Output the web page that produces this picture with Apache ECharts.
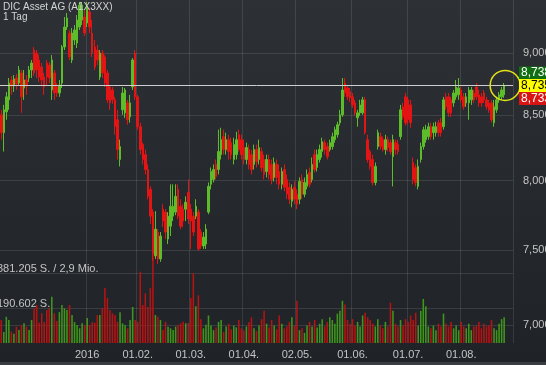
<!DOCTYPE html>
<html><head><meta charset="utf-8">
<script src="https://cdn.jsdelivr.net/npm/echarts@6/dist/echarts.min.js"></script>
<style>
html,body{margin:0;padding:0;background:#25282c;}
#c{width:546px;height:365px;background:linear-gradient(#2d3034,#1f2226);}
</style></head><body><div id="c"></div>
<script>
// ---- data ----
const titleText = 'DIC Asset AG (A1X3XX)';
const subTitleText = '1 Tag';
const firstDay = '2015-11-11';
const closedDays = ['2015-12-24','2015-12-25','2015-12-31','2016-01-01','2016-03-25','2016-03-28'];
const emptyTrailingDays = 3;
const xTickLabels = {'2016-01-04':'2016','2016-02-01':'01.02.','2016-03-01':'01.03.','2016-04-01':'01.04.','2016-05-02':'02.05.','2016-06-01':'01.06.','2016-07-01':'01.07.','2016-08-01':'01.08.'};
const priceTicks = [7000, 7500, 8000, 8500, 9000];
const volumeTicks = [190602, 381205];
const volumeTickLabels = {190602:'190.602 S.', 381205:'381.205 S. / 2,9 Mio.'};
const lastPrice = 8735, askPrice = 8738, bidPrice = 8733;

const openP = [
8501,8362,8524,8619,8779,8730,8795,8754,8836,8714,
8779,8795,8860,9025,9000,8942,8885,8803,8917,8901,
8698,8836,8722,8674,8754,9050,9219,9168,8942,9109,
9084,9219,9279,9305,9253,9348,9168,9050,9025,8803,
9000,8967,8836,8722,8698,8619,8462,8157,8540,8516,
8595,8485,8722,9000,8643,8408,8270,8194,8082,7935,
7770,7462,7628,7441,7791,7770,7579,7670,7741,7770,
7935,7812,7791,7791,7913,7791,7741,7741,7770,7628,
7531,7544,7770,7972,8008,8120,8082,8194,8331,8232,
8308,8285,8157,8194,8346,8308,8247,8157,8232,8194,
8120,8232,8157,8217,8157,8067,8157,8120,8023,8120,
8067,7972,8082,8008,7950,7848,7950,7899,7863,8008,
7899,7957,8060,8008,8194,8097,8157,8217,8285,8255,
8232,8255,8308,8346,8439,8501,8754,8714,8682,8643,
8595,8477,8516,8516,8619,8308,8217,8157,7986,8255,
8331,8308,8232,8308,8285,8179,8285,8270,8331,8564,
8643,8619,8579,8134,8097,7957,8157,8255,8308,8331,
8408,8362,8362,8439,8439,8408,8643,8643,8619,8595,
8643,8659,8698,8643,8595,8595,8619,8674,8722,8659,
8643,8674,8619,8595,8595,8439,8540,8619,8643,8659];
const closeP = [
8362,8540,8643,8754,8730,8787,8746,8860,8643,8779,
8730,8860,8917,8836,8860,8803,8779,8722,8803,8795,
8942,8674,8674,8738,9050,9219,9296,8967,9168,9194,
9279,9408,9408,9168,9391,9219,9000,8885,8942,9000,
8836,8754,8619,8595,8619,8408,8232,8255,8674,8698,
8462,8595,8942,8643,8408,8232,8157,8082,7884,7741,
7476,7649,7441,7600,7706,7628,7741,7812,7812,7884,
7741,7670,7706,7841,7720,7706,7628,7812,7510,7531,
7593,7649,7957,8067,8082,8030,8217,8308,8232,8308,
8217,8194,8270,8308,8232,8194,8157,8247,8120,8082,
8232,8142,8247,8097,8045,8157,8045,8008,8134,8023,
7972,8067,7950,7899,7863,7935,7863,7827,7993,7899,
7986,8045,7972,8120,8082,8194,8232,8293,8232,8179,
8285,8331,8385,8423,8501,8698,8674,8643,8635,8579,
8516,8516,8579,8619,8362,8157,8105,7986,8105,8362,
8255,8232,8308,8247,8217,8308,8232,8217,8540,8485,
8439,8462,8439,8008,7986,8105,8255,8385,8385,8408,
8331,8408,8408,8362,8362,8619,8564,8516,8516,8674,
8722,8714,8619,8564,8643,8698,8698,8619,8643,8595,
8595,8619,8564,8540,8462,8564,8619,8659,8698,8735];
const lowP = [
8308,8217,8462,8540,8659,8682,8698,8730,8516,8619,
8659,8763,8795,8811,8795,8763,8738,8659,8738,8754,
8619,8619,8643,8643,8714,9025,9194,8942,8917,9067,
9042,9194,9236,9143,9219,9168,8967,8860,8901,8779,
8795,8722,8595,8540,8587,8346,8157,8105,8501,8477,
8423,8439,8698,8619,8385,8194,8120,8045,7863,7684,
7428,7441,7407,7421,7663,7579,7544,7600,7706,7748,
7720,7649,7663,7706,7684,7510,7600,7720,7496,7510,
7510,7510,7755,7935,7986,8008,8045,8157,8194,8194,
8157,8157,8120,8157,8217,8157,8120,8120,8082,8045,
8082,8097,8120,8067,8008,8023,8008,7972,7993,7972,
7935,7935,7921,7863,7827,7805,7827,7791,7827,7863,
7877,7935,7950,7986,8060,8067,8134,8172,8194,8157,
8217,8232,8285,8323,8416,8485,8643,8619,8603,8556,
8493,8408,8493,8501,8346,8134,8082,7964,7964,8232,
8232,8217,8194,8217,8194,7957,8194,8194,8308,8462,
8416,8423,8400,7972,7957,7935,8134,8232,8285,8308,
8308,8308,8331,8331,8331,8385,8540,8485,8485,8564,
8619,8619,8595,8540,8564,8462,8579,8595,8619,8564,
8564,8595,8540,8516,8439,8408,8516,8595,8619,8635];
const highP = [
8540,8579,8682,8795,8811,8819,8828,8893,8860,8860,
8819,8893,8942,9050,9025,8983,8917,8836,8942,8926,
8983,8860,8754,8779,9067,9305,9339,9194,9211,9236,
9322,9435,9435,9365,9435,9382,9279,9109,9067,9025,
9025,8983,8860,8738,8722,8643,8540,8308,8722,8714,
8619,8659,8958,9025,8659,8439,8285,8232,8120,7957,
7791,7777,7649,7628,7827,7791,7770,7972,7972,7972,
7972,7863,7827,7884,8008,7827,7770,7863,7791,7649,
7628,7684,7986,8097,8120,8157,8385,8400,8385,8362,
8346,8323,8323,8369,8385,8346,8308,8285,8270,8232,
8270,8270,8308,8247,8194,8194,8194,8157,8172,8157,
8120,8097,8120,8045,7986,7972,7993,7935,8023,8045,
8023,8082,8097,8172,8232,8232,8270,8323,8308,8285,
8308,8362,8408,8447,8540,8795,8795,8738,8714,8674,
8619,8540,8619,8643,8643,8346,8232,8194,8134,8385,
8362,8331,8346,8331,8308,8346,8308,8308,8579,8595,
8674,8643,8619,8172,8120,8157,8285,8408,8423,8439,
8439,8439,8447,8462,8477,8643,8674,8674,8643,8698,
8779,8795,8722,8674,8674,8722,8722,8698,8754,8698,
8674,8698,8643,8619,8619,8619,8643,8682,8722,8754];
const volume = [
125000,60000,143000,125000,62000,50000,89000,71000,98000,107000,
89000,71000,125000,189000,207000,110000,162000,114000,180000,189000,
252000,162000,120000,168000,207000,189000,180000,207000,152000,114000,
98000,80000,107000,98000,136000,98000,114000,110000,152000,152000,
189000,300000,245000,180000,162000,152000,116000,168000,107000,98000,
80000,125000,196000,125000,116000,388000,207000,270000,196000,300000,
480000,152000,143000,125000,71000,116000,89000,80000,71000,89000,
100000,107000,116000,107000,110000,245000,381000,200000,260000,130000,
80000,100000,150000,95000,70000,85000,115000,125000,60000,90000,
105000,75000,95000,85000,125000,80000,70000,90000,115000,140000,
80000,65000,95000,130000,175000,105000,85000,125000,95000,75000,
150000,105000,80000,90000,115000,140000,95000,230000,70000,80000,
55000,95000,115000,90000,125000,85000,105000,130000,90000,115000,
140000,125000,105000,160000,175000,230000,210000,125000,105000,130000,
95000,115000,90000,150000,165000,140000,125000,105000,90000,130000,
95000,80000,115000,90000,220000,175000,105000,90000,125000,95000,
130000,115000,150000,125000,165000,95000,175000,240000,200000,90000,
80000,95000,70000,105000,90000,160000,105000,90000,115000,80000,
95000,70000,115000,90000,80000,105000,70000,90000,95000,115000,
80000,105000,90000,95000,125000,80000,70000,105000,130000,140000];

// ---- trading calendar (category axis) ----
function buildDays(start, count, extra) {
  const out = [];
  const d = new Date(start + 'T00:00:00Z');
  while (out.length < count + extra) {
    const s = d.toISOString().slice(0, 10);
    const wd = d.getUTCDay();
    if (wd !== 0 && wd !== 6 && closedDays.indexOf(s) < 0) out.push(s);
    d.setUTCDate(d.getUTCDate() + 1);
  }
  return out;
}
const days = buildDays(firstDay, openP.length, emptyTrailingDays);

const UP = '#5cbc2a', DOWN = '#e21414';
const VUP = '#3f961c', VDOWN = '#b41414', VFLAT = '#8a8a8a';
const candleData = openP.map((o, i) => [o, closeP[i], lowP[i], highP[i]]);
const volData = volume.map((v, i) => ({
  value: v,
  itemStyle: {color: closeP[i] > openP[i] ? VUP : (closeP[i] < openP[i] ? VDOWN : VFLAT)}
}));

const fmtPrice = v => {
  const s = Math.round(v).toString();
  return s.slice(0, s.length - 3) + ',' + s.slice(-3);
};
const isTick = (idx, val) => xTickLabels.hasOwnProperty(val);
const gridColor = 'rgba(255,255,255,0.11)';
const FONT = 'Liberation Sans';

const chart = echarts.init(document.getElementById('c'), null, {renderer: 'canvas'});
chart.setOption({
  animation: false,
  backgroundColor: 'transparent',
  textStyle: {fontFamily: FONT},
  grid: [
    {left: 0, right: 33, top: 0, height: 343, containLabel: false, outerBoundsMode: 'none'},
    {left: 0, right: 33, top: 203, height: 140, containLabel: false, outerBoundsMode: 'none'}
  ],
  xAxis: [
    {type: 'category', gridIndex: 0, data: days, boundaryGap: true,
     axisLine: {show: false}, axisTick: {show: false}, axisLabel: {show: false},
     splitLine: {show: true, interval: isTick, lineStyle: {color: gridColor, width: 1}}},
    {type: 'category', gridIndex: 1, data: days, boundaryGap: true,
     axisLine: {show: false}, axisTick: {show: false},
     axisLabel: {show: true, interval: isTick, formatter: v => xTickLabels[v] || '',
       color: '#c4c4c4', fontSize: 11, margin: 6, fontFamily: FONT},
     splitLine: {show: false}}
  ],
  yAxis: [
    {type: 'log', logBase: 10, gridIndex: 0, position: 'right', min: 6885, max: 9452,
     axisLine: {show: false},
     axisTick: {show: false, customValues: priceTicks},
     axisLabel: {customValues: priceTicks, formatter: fmtPrice, color: '#c4c4c4', fontSize: 11, margin: 10, fontFamily: FONT},
     splitLine: {show: true, lineStyle: {color: gridColor, width: 1}}},
    {type: 'value', gridIndex: 1, position: 'left', min: 0, max: 762410,
     axisLine: {show: false},
     axisTick: {show: false, customValues: volumeTicks},
     axisLabel: {inside: true, customValues: volumeTicks, formatter: v => volumeTickLabels[Math.round(v)] || '',
       verticalAlign: 'bottom', lineHeight: 8, margin: -3, color: '#c4c4c4', fontSize: 11, fontFamily: FONT},
     splitLine: {show: true, lineStyle: {color: gridColor, width: 1}}}
  ],
  series: [
    {type: 'bar', xAxisIndex: 1, yAxisIndex: 1, data: volData, barWidth: '62%', z: 1},
    {type: 'candlestick', xAxisIndex: 0, yAxisIndex: 0, data: candleData, barWidth: 2, z: 3,
     itemStyle: {color: UP, color0: DOWN, borderColor: UP, borderColor0: DOWN, borderWidth: 1},
     markLine: {silent: true, symbol: ['none', 'none'], animation: false,
       lineStyle: {color: '#cfcfcf', width: 1, type: 'solid'},
       label: {show: false},
       data: [{yAxis: lastPrice}]}}
  ]
});

// annotations placed via the chart's own scales
const yLast = chart.convertToPixel({yAxisIndex: 0}, lastPrice);
const lastIdx = openP.length - 1;
const lastPt = chart.convertToPixel({xAxisIndex: 0, yAxisIndex: 0}, [lastIdx, closeP[lastIdx]]);
const boxStyle = (txt, bg, fg) => ({text: txt, fill: fg, backgroundColor: bg, padding: [1, 3, 0, 2],
  font: '12px "Liberation Sans"', verticalAlign: 'middle'});
chart.setOption({
  graphic: [
    {type: 'text', left: 3, top: 2, z: 10,
     style: {text: titleText + '\n' + subTitleText, fill: '#d4d4d4', font: '10px "Liberation Sans"', lineHeight: 10}},
    {type: 'circle', shape: {cx: lastPt[0] + 1, cy: lastPt[1], r: 15}, z: 20,
     style: {fill: 'none', stroke: '#e2e21a', lineWidth: 1.5}},
    {type: 'text', x: 519, y: yLast - 12.5, z: 30, style: boxStyle(fmtPrice(askPrice), '#0f6e12', '#ffffff')},
    {type: 'text', x: 519, y: yLast, z: 31, style: boxStyle(fmtPrice(lastPrice), '#ffff00', '#000000')},
    {type: 'text', x: 519, y: yLast + 13, z: 30, style: boxStyle(fmtPrice(bidPrice), '#d81414', '#ffffff')},
    {type: 'rect', shape: {x: 0, y: 362, width: 546, height: 3}, z: 0,
     style: {fill: '#3a3d41'}}
  ]
});
</script></body></html>
